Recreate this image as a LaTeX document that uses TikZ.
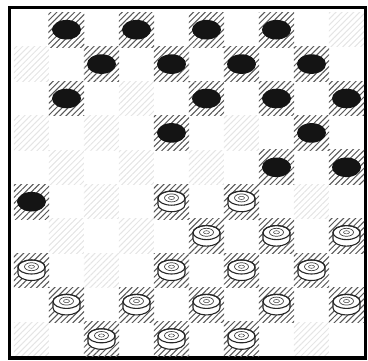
\documentclass[tikz,border=0pt]{standalone}
\usepackage{tikz}
\usetikzlibrary{patterns.meta}
\tikzset{
  boardframe/.style={draw=black,line width=3.5pt},
  darkcell/.style={draw=none,minimum width=35pt,minimum height=34.4pt,inner sep=0pt,
    pattern={Lines[angle=45,distance=4.2pt,line width=1pt]},pattern color=black!10},
  hatch/.style={pattern={Lines[angle=45,distance=4.2pt,line width=1pt]},pattern color=black!65},
  blackman/.pic={
    \fill[black!92] (0,0) ellipse[x radius=14.5,y radius=9.8];
  },
  whiteman/.pic={
    \filldraw[fill=white,draw=black!85,line width=1.1pt]
      (-13.5,3.5) -- (-13.5,-3) arc[start angle=180,end angle=360,x radius=13.5,y radius=7]
      -- (13.5,3.5) arc[start angle=0,end angle=180,x radius=13.5,y radius=7] -- cycle;
    \draw[black!85,line width=1.1pt] (0,3.5) ellipse[x radius=13.5,y radius=7];
    \draw[black!75,line width=0.7pt] (0,3.8) ellipse[x radius=7,y radius=4];
    \draw[black!75,line width=0.5pt] (0,3.8) ellipse[x radius=3,y radius=1.6];
  },
}
\begin{document}
\begin{tikzpicture}[x=1pt,y=1pt]
  \useasboundingbox (0,0) rectangle (368,360);
  % squares of the board
  \begin{scope}[shift={(14pt,347.5pt)},x=35pt,y=-34.4pt]
    \foreach \i in {1,...,10}{
      \foreach \j in {1,...,10}{
        \pgfmathtruncatemacro\sq{mod(\i+\j,2)}
        \ifnum\sq=1
          \node[darkcell] (c\i-\j) at (\j-0.5,\i-0.5) {};
        \fi
      }
    }
  \end{scope}
  \draw[boardframe] (9.5,2) rectangle (365.5,352.5);
  % black men
  \foreach \i/\j in {1/2,1/4,1/6,1/8,2/3,2/5,2/7,2/9,3/2,3/6,3/8,3/10,
                     4/5,4/9,5/8,5/10,6/1}{
    \fill[hatch] (c\i-\j.south west) rectangle (c\i-\j.north east);
    \pic at (c\i-\j) {blackman};
  }
  % white men
  \foreach \i/\j in {6/5,6/7,7/6,7/8,7/10,8/1,8/5,8/7,8/9,
                     9/2,9/4,9/6,9/8,9/10,10/3,10/5,10/7}{
    \fill[hatch] (c\i-\j.south west) rectangle (c\i-\j.north east);
    \pic at (c\i-\j) {whiteman};
  }
\end{tikzpicture}
\end{document}
